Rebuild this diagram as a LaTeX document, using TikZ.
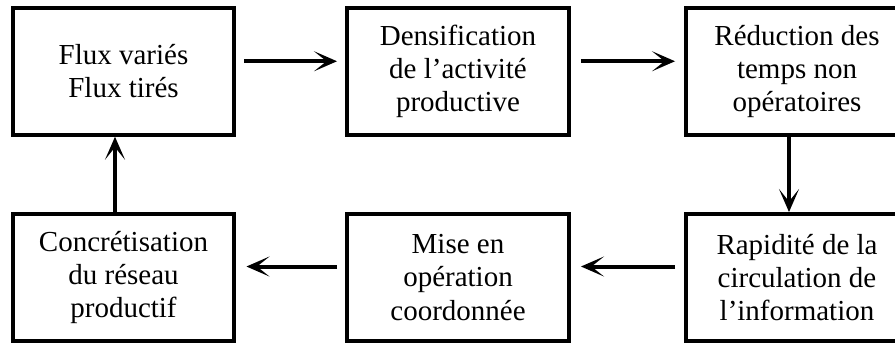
\documentclass[tikz,border=0pt]{standalone}
\usepackage{fontspec}
\setmainfont{Liberation Serif}
\usetikzlibrary{arrows.meta}

\tikzset{
  stagebox/.style={draw, line width=0.08cm, minimum width=4.44cm, minimum height=2.54cm,
    inner sep=0pt, align=center, font=\fontsize{16.5}{18.8}\selectfont},
  flowarrow/.style={line width=0.08cm, -{Stealth[length=0.46cm,width=0.4cm,inset=0.25cm]}},
}

\begin{document}
\begin{tikzpicture}[x=0.02cm, y=-0.02cm]
        \clip (0,0) rectangle (895,343);

        % top row
        \node[stagebox] (flux)  at (123.5,71.25) {Flux variés\\Flux tirés};
        \node[stagebox] (dens)  at (458,71.25)   {Densification\\de l’activité\\productive};
        \node[stagebox] (reduc) at (797,71.25)   {Réduction des\\temps non\\opératoires};

        % bottom row
        \node[stagebox] (concr) at (123.5,277.5) {Concrétisation\\du réseau\\productif};
        \node[stagebox] (mise)  at (458,277.5)   {Mise en\\opération\\coordonnée};
        \node[stagebox] (rapid) at (797,277.5)   {Rapidité de la\\circulation de\\l’information};

        \draw[flowarrow, shorten <=0.16cm, shorten >=0.16cm] ([yshift=0.2cm] flux.east) -- ([yshift=0.2cm] dens.west);
        \draw[flowarrow, shorten <=0.2cm, shorten >=0.18cm] ([yshift=0.2cm] dens.east) -- ([yshift=0.2cm] reduc.west);
        \draw[flowarrow] ([xshift=-0.16cm] reduc.south) -- ([xshift=-0.16cm] rapid.north);
        \draw[flowarrow, shorten <=0.18cm, shorten >=0.2cm] ([yshift=0.22cm] rapid.west) -- ([yshift=0.22cm] mise.east);
        \draw[flowarrow, shorten <=0.16cm, shorten >=0.2cm] ([yshift=0.22cm] mise.west) -- ([yshift=0.22cm] concr.east);
        \draw[flowarrow] ([xshift=-0.17cm] concr.north) -- ([xshift=-0.17cm] flux.south);
\end{tikzpicture}
\end{document}
